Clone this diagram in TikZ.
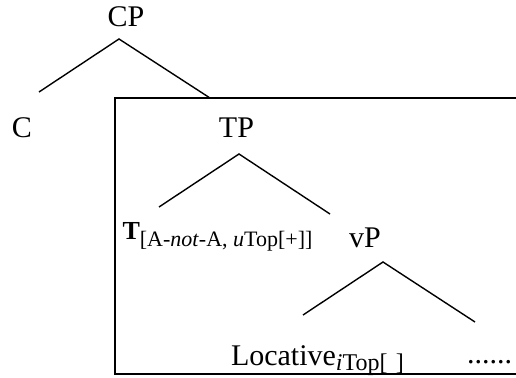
\documentclass[tikz,border=0pt]{standalone}
\usepackage{fontspec}
\setmainfont{Liberation Serif}
\begin{document}
\begin{tikzpicture}[x=1pt,y=-1pt,
  lbl/.style={inner sep=0pt,outer sep=0pt,font=\fontsize{30}{33}\selectfont},
  branch/.style={line width=1.4pt},
  frame/.style={line width=2pt}]
\useasboundingbox (0,0) rectangle (516,377);
% nodes
\node[lbl,anchor=base] (CP) at (126,27) {CP};
\node[lbl,anchor=base] (C) at (22,137) {C};
\node[lbl,anchor=base] (TP) at (236.5,137) {TP};
\node[lbl,anchor=base west] (T) at (122.5,239)
  {{\fontsize{26}{28}\selectfont\bfseries T}\raisebox{-7pt}{\fontsize{22}{24}\selectfont[A-\textit{not}-A, \textit{u}Top[+]]}};
\node[lbl,anchor=base] (vP) at (365,247) {vP};
\node[lbl,anchor=base west] (Loc) at (231,365)
  {Locative\raisebox{-5pt}{\fontsize{24}{26}\selectfont\textit{i}Top[\hspace{0.35em}]}};
\node[lbl,anchor=base west] (dots) at (467,363) {......};
% branch points
\coordinate (cpApex) at (119,39);
\coordinate (cpL) at (39,92);
\coordinate (cpR) at (210,98);
\coordinate (tpApex) at (239,154);
\coordinate (tpL) at (159,207);
\coordinate (tpR) at (330,214);
\coordinate (vpApex) at (383,262);
\coordinate (vpL) at (303,315);
\coordinate (vpR) at (475,322);
% box corners
\coordinate (boxTR) at (530,98);
\coordinate (boxTL) at (115,98);
\coordinate (boxBL) at (115,374);
\coordinate (boxBR) at (530,374);
% connectors
\draw[branch] (cpL) -- (cpApex) -- (cpR);
\draw[branch] (tpL) -- (tpApex) -- (tpR);
\draw[branch] (vpL) -- (vpApex) -- (vpR);
\draw[frame] (boxTR) -- (boxTL) -- (boxBL) -- (boxBR);
\end{tikzpicture}
\end{document}
